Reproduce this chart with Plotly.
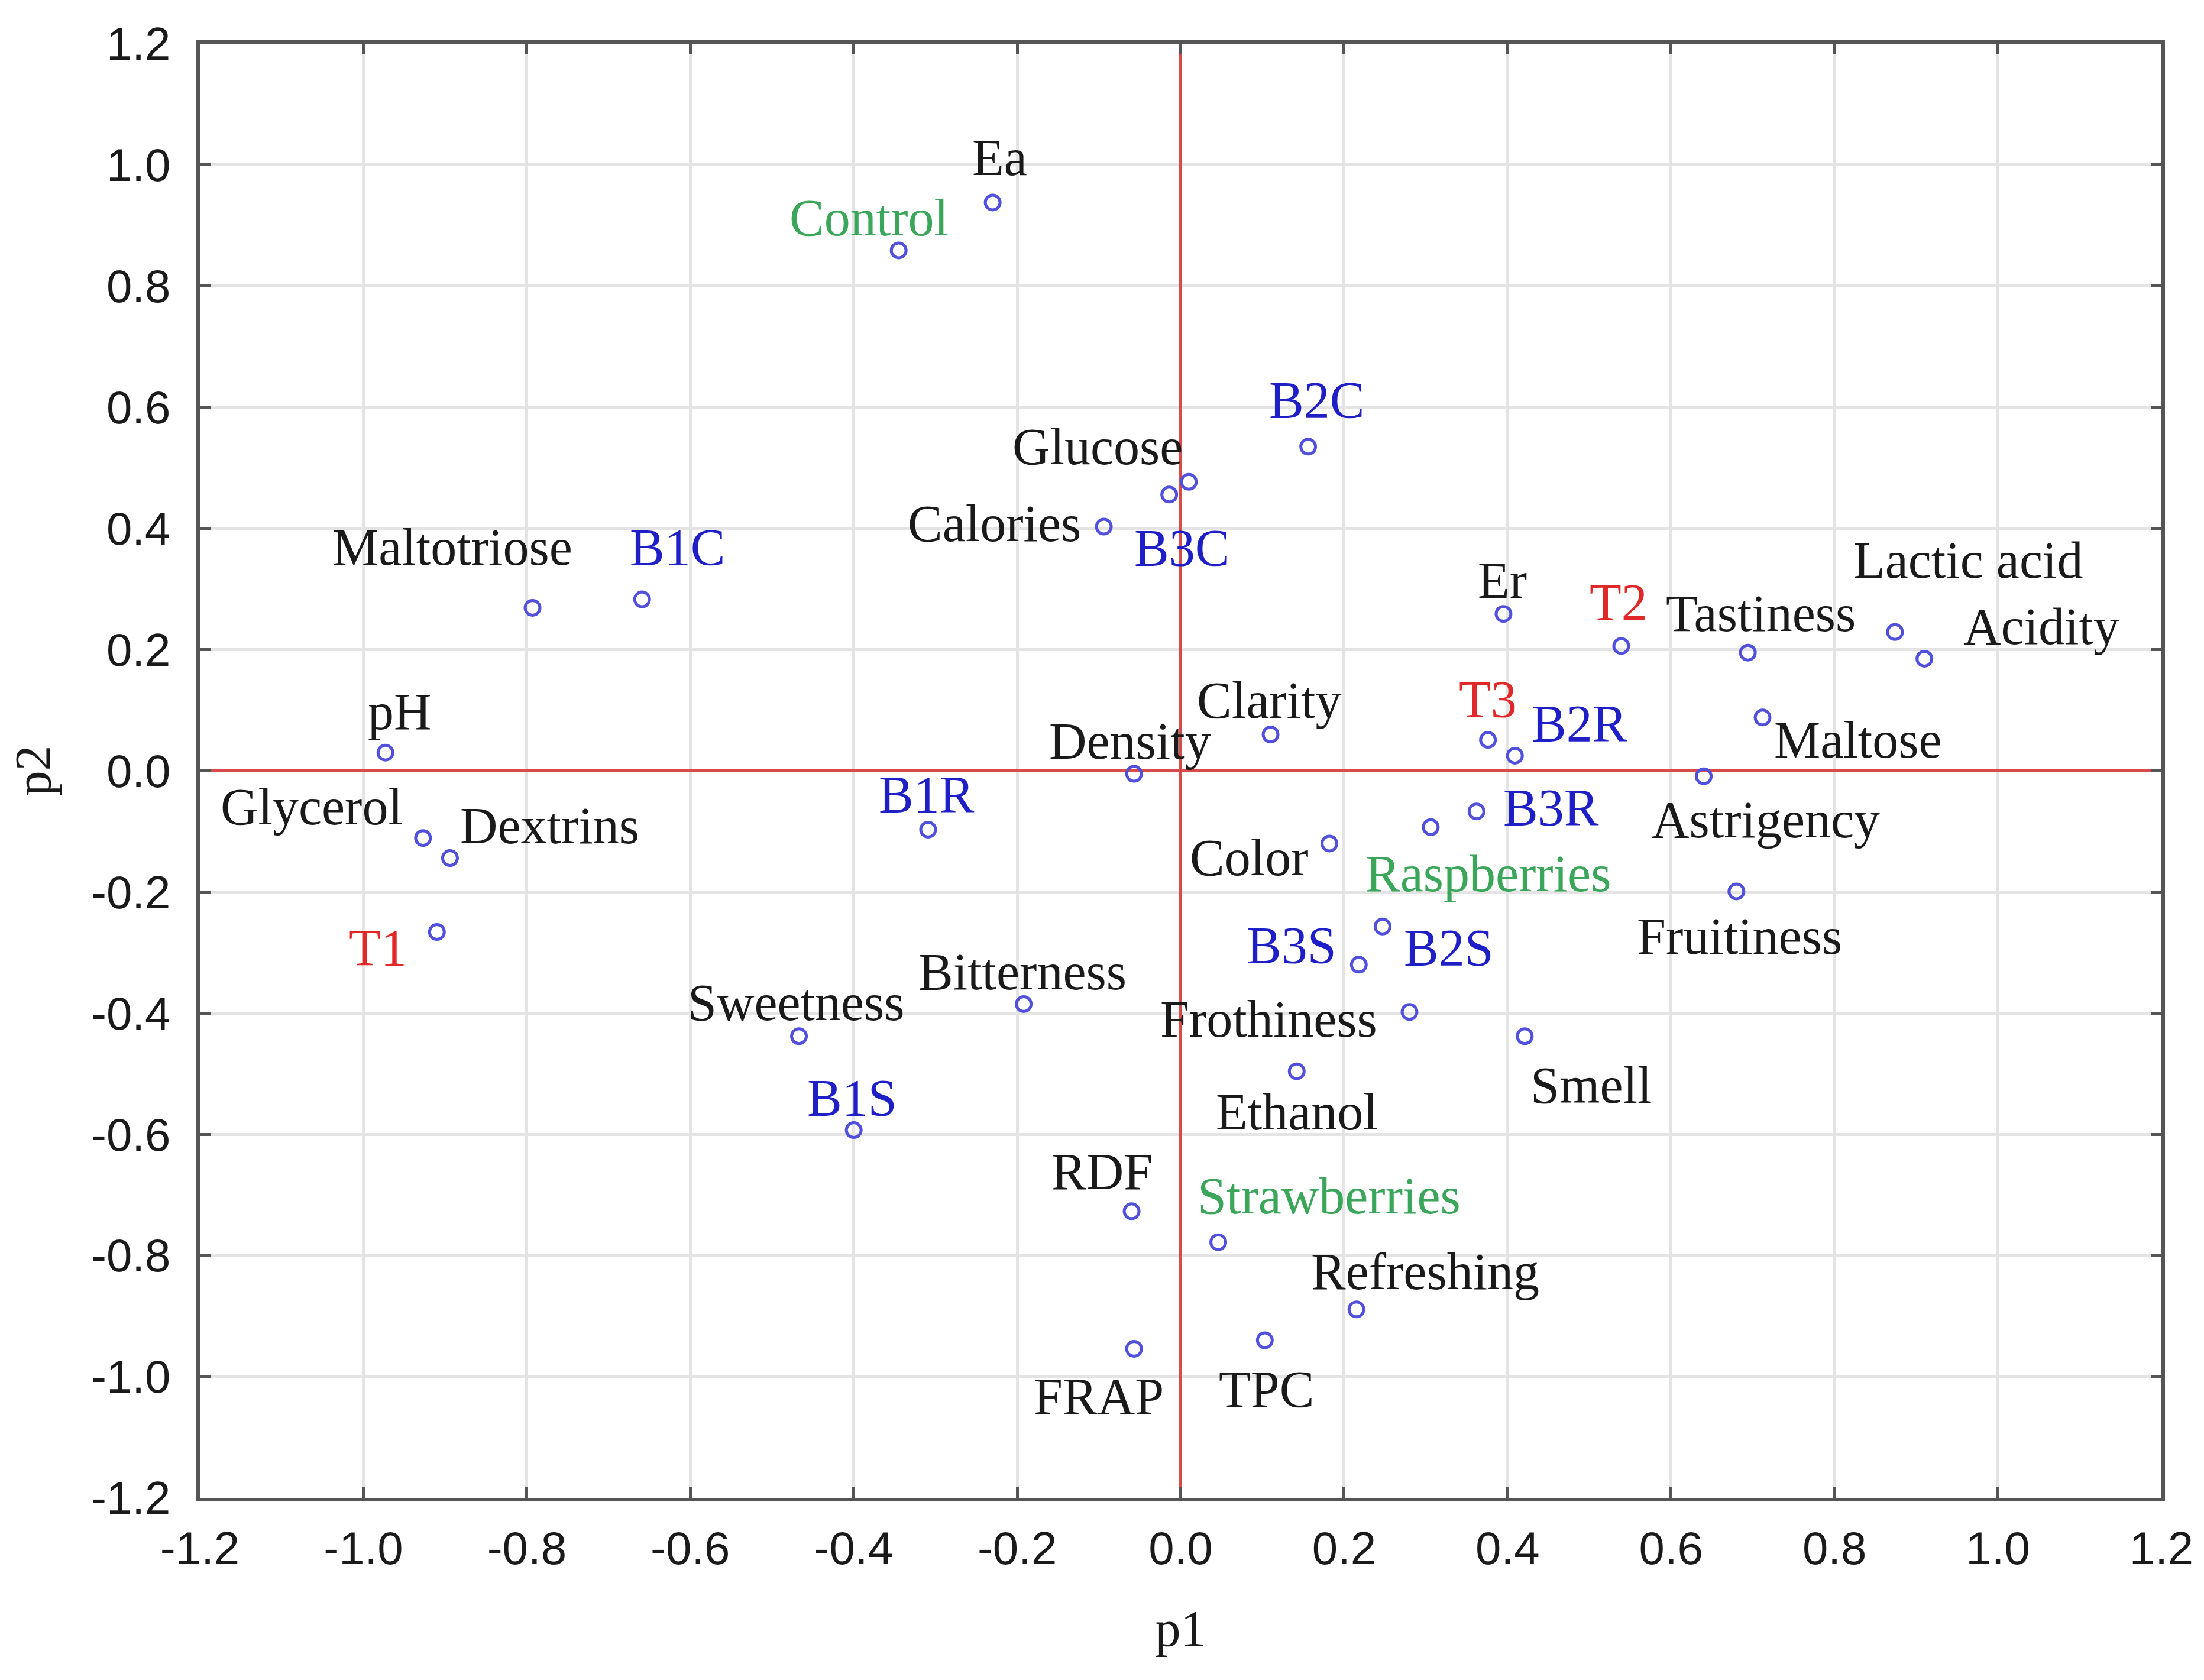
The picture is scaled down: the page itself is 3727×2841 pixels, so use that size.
import plotly.graph_objects as go

# ---- data ----
names = ["Ea", "Control", "B2C", "Glucose", "B3C", "Calories", "Maltotriose", "B1C",
         "Er", "T2", "Tastiness", "Lactic acid", "Acidity", "Maltose", "pH", "Clarity",
         "Density", "T3", "B2R", "Astrigency", "Glycerol", "Dextrins", "B1R", "B3R",
         "Raspberries", "Color", "Fruitiness", "T1", "B3S", "B2S", "Bitterness",
         "Sweetness", "Frothiness", "Ethanol", "Smell", "B1S", "RDF", "Strawberries",
         "Refreshing", "FRAP", "TPC"]
p1 = [-0.230, -0.345, 0.156, 0.010, -0.014, -0.094, -0.793, -0.659,
      0.395, 0.539, 0.694, 0.874, 0.910, 0.712, -0.973, 0.110,
      -0.057, 0.376, 0.409, 0.640, -0.927, -0.894, -0.309, 0.362,
      0.306, 0.182, 0.680, -0.910, 0.218, 0.247, -0.192,
      -0.467, 0.280, 0.142, 0.421, -0.400, -0.060, 0.046,
      0.215, -0.057, 0.103]
p2 = [0.938, 0.859, 0.535, 0.477, 0.456, 0.403, 0.269, 0.283,
      0.259, 0.206, 0.195, 0.229, 0.185, 0.088, 0.030, 0.060,
      -0.005, 0.051, 0.025, -0.009, -0.111, -0.144, -0.097, -0.067,
      -0.093, -0.120, -0.199, -0.266, -0.320, -0.257, -0.385,
      -0.438, -0.398, -0.496, -0.438, -0.593, -0.727, -0.778,
      -0.889, -0.954, -0.940]
groups = ["v", "g", "b", "v", "b", "v", "v", "b",
          "v", "r", "v", "v", "v", "v", "v", "v",
          "v", "r", "b", "v", "v", "v", "b", "b",
          "g", "v", "v", "r", "b", "b", "v",
          "v", "v", "v", "v", "b", "v", "g",
          "v", "v", "v"]
tick_vals = [-1.2, -1.0, -0.8, -0.6, -0.4, -0.2, 0.0, 0.2, 0.4, 0.6, 0.8, 1.0, 1.2]
tick_text = ["-1.2", "-1.0", "-0.8", "-0.6", "-0.4", "-0.2", "0.0", "0.2", "0.4", "0.6", "0.8", "1.0", "1.2"]

# ---- label placement (offsets from point, in reference display px) ----
offsets = [(5, -32), (-21, -23), (6, -33), (-65, -25), (9, 38), (-78, -2), (-57, -43), (25, -37),
           (-1, -24), (-2, -31), (9, -28), (52, -51), (83, -23), (68, 16), (10, -29), (-1, -24),
           (-3, -23), (0, -29), (46, -23), (44, 31), (-79, -22), (71, -23), (-1, -25), (53, -3),
           (41, 33), (-57, 10), (2, 32), (-42, 11), (-48, -14), (47, 15), (-1, -23),
           (-2, -24), (-100, 5), (0, 29), (47, 35), (-1, -23), (-21, -28), (79, -33),
           (49, -27), (-25, 34), (1, 35)]
S = 2.378
colors = {"v": "#1a1a1a", "b": "#1f1fc8", "r": "#e02828", "g": "#3aa65a"}
SERIF = "Liberation Serif, Times New Roman, serif"
SANS = "Liberation Sans, Arial, sans-serif"

fig = go.Figure()
fig.add_trace(go.Scatter(
    x=p1, y=p2, mode="markers",
    marker=dict(symbol="circle-open", size=25, color="#5050dd", line=dict(width=5, color="#5050dd")),
    hoverinfo="text", text=names, showlegend=False))

annotations = []
for n, x, y, g, (dx, dy) in zip(names, p1, p2, groups, offsets):
    annotations.append(dict(
        x=x, y=y, xref="x", yref="y", text=n, showarrow=False,
        xanchor="center", yanchor="middle",
        xshift=dx * S, yshift=-dy * S,
        font=dict(family=SERIF, size=88, color=colors[g])))

axis_common = dict(
    range=[-1.2, 1.2], tickvals=tick_vals, ticktext=tick_text,
    showgrid=True, gridcolor="#e4e4e4", gridwidth=5,
    zeroline=True, zerolinecolor="#d94a4a", zerolinewidth=5,
    showline=True, linecolor="#555555", linewidth=6, mirror="ticks",
    ticks="inside", ticklen=18, tickwidth=5, tickcolor="#555555",
    tickfont=dict(family=SANS, size=78, color="#1a1a1a"),
)

fig.update_layout(
    width=3727, height=2841,
    paper_bgcolor="white", plot_bgcolor="white",
    margin=dict(l=330, r=80, t=66, b=316),
    xaxis=dict(**axis_common, ticklabelstandoff=12,
               title=dict(text="p1", font=dict(family=SERIF, size=86, color="#1a1a1a"), standoff=64)),
    yaxis=dict(**axis_common, ticklabelstandoff=28,
               title=dict(text="p2", font=dict(family=SERIF, size=86, color="#1a1a1a"), standoff=60)),
    annotations=annotations,
)

fig.write_html("out.html")
